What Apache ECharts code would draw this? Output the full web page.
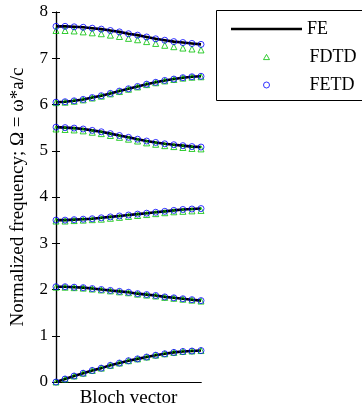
<!DOCTYPE html>
<html>
<head>
<meta charset="utf-8">
<script src="https://cdn.jsdelivr.net/npm/echarts@6/dist/echarts.min.js"></script>
<style>
html,body{margin:0;padding:0;background:#fff;}
#c{width:362px;height:408px;}
</style>
</head>
<body>
<div id="c"></div>
<script>
// Bloch vector sample index
const kIndex = [0,1,2,3,4,5,6,7,8,9,10,11,12,13,14,15,16];
const yTicks = [0,1,2,3,4,5,6,7,8];

// FE (continuous line)
const fe1 = [0,0.065,0.13,0.19,0.25,0.30,0.36,0.41,0.46,0.50,0.54,0.58,0.61,0.64,0.66,0.67,0.68];
const fe2 = [2.06,2.06,2.05,2.04,2.02,2.00,1.98,1.96,1.94,1.91,1.89,1.87,1.84,1.82,1.80,1.78,1.76];
const fe3 = [3.50,3.50,3.51,3.52,3.53,3.55,3.57,3.59,3.61,3.63,3.65,3.67,3.69,3.71,3.73,3.74,3.75];
const fe4 = [5.51,5.50,5.49,5.47,5.44,5.41,5.37,5.33,5.29,5.25,5.21,5.18,5.15,5.13,5.11,5.09,5.08];
const fe5 = [6.05,6.06,6.08,6.11,6.15,6.19,6.24,6.29,6.34,6.39,6.44,6.48,6.52,6.55,6.58,6.60,6.61];
const fe6 = [7.69,7.69,7.68,7.67,7.65,7.63,7.60,7.57,7.53,7.50,7.46,7.42,7.39,7.36,7.34,7.32,7.30];

// FDTD (green triangles)
const fdtd1 = [0,0.065,0.13,0.19,0.25,0.30,0.36,0.41,0.46,0.50,0.54,0.58,0.61,0.64,0.66,0.67,0.68];
const fdtd2 = [2.05,2.05,2.04,2.03,2.01,1.99,1.97,1.95,1.93,1.90,1.88,1.86,1.83,1.81,1.79,1.77,1.75];
const fdtd3 = [3.48,3.48,3.49,3.50,3.51,3.52,3.54,3.56,3.58,3.60,3.62,3.64,3.66,3.68,3.69,3.70,3.71];
const fdtd4 = [5.47,5.46,5.45,5.43,5.40,5.37,5.33,5.29,5.25,5.21,5.17,5.14,5.11,5.09,5.07,5.05,5.04];
const fdtd5 = [6.04,6.05,6.07,6.10,6.14,6.18,6.23,6.28,6.33,6.38,6.43,6.47,6.51,6.54,6.57,6.59,6.60];
const fdtd6 = [7.60,7.60,7.59,7.57,7.55,7.53,7.50,7.47,7.43,7.40,7.36,7.32,7.28,7.25,7.22,7.20,7.18];

// FETD (blue circles)
const fetd1 = [0,0.065,0.13,0.19,0.25,0.30,0.36,0.41,0.46,0.50,0.54,0.58,0.61,0.64,0.66,0.67,0.68];
const fetd2 = [2.06,2.06,2.05,2.04,2.02,2.00,1.98,1.96,1.94,1.91,1.89,1.87,1.84,1.82,1.80,1.78,1.76];
const fetd3 = [3.50,3.50,3.51,3.52,3.53,3.55,3.57,3.59,3.61,3.63,3.65,3.67,3.69,3.71,3.73,3.74,3.75];
const fetd4 = [5.51,5.50,5.49,5.47,5.44,5.41,5.37,5.33,5.29,5.25,5.21,5.18,5.15,5.13,5.11,5.09,5.08];
const fetd5 = [6.05,6.06,6.08,6.11,6.15,6.19,6.24,6.29,6.34,6.39,6.44,6.48,6.52,6.55,6.58,6.60,6.61];
const fetd6 = [7.69,7.69,7.68,7.67,7.65,7.63,7.60,7.57,7.53,7.50,7.46,7.42,7.39,7.36,7.34,7.32,7.30];

const feBands = [fe1,fe2,fe3,fe4,fe5,fe6];
const fdtdBands = [fdtd1,fdtd2,fdtd3,fdtd4,fdtd5,fdtd6];
const fetdBands = [fetd1,fetd2,fetd3,fetd4,fetd5,fetd6];

const FONT = 'Liberation Serif';
const toPts = arr => arr.map((v,i)=>[kIndex[i], v]);

const series = [];
feBands.forEach(b => series.push({
  name:'FE', type:'line', data: toPts(b), symbol:'none', z:2,
  lineStyle:{color:'#000', width:2.6}, itemStyle:{color:'#000'}, animation:false
}));
fdtdBands.forEach(b => series.push({
  name:'FDTD', type:'scatter', data: toPts(b), symbol:'triangle', symbolSize:6, z:3,
  itemStyle:{color:'rgba(0,0,0,0)', borderColor:'#00c000', borderWidth:1}, animation:false
}));
fetdBands.forEach(b => series.push({
  name:'FETD', type:'scatter', data: toPts(b), symbol:'circle', symbolSize:6, z:4,
  itemStyle:{color:'rgba(0,0,0,0)', borderColor:'#0000ff', borderWidth:1}, animation:false
}));

const legendText = {fontFamily:FONT, fontSize:18, color:'#000'};
const legendBase = {
  orient:'vertical', padding:0, itemHeight:18, selectedMode:false, symbolKeepAspect:true
};

const chart = echarts.init(document.getElementById('c'), null, {renderer:'canvas'});
chart.setOption({
  animation:false,
  backgroundColor:'#fff',
  grid:{left:56, top:12, width:145, height:370, containLabel:false, outerBoundsMode:'none'},
  graphic:[{
    type:'rect', z:0, silent:true,
    shape:{x:216.5, y:10.5, width:160, height:90},
    style:{fill:'#fff', stroke:'#000', lineWidth:1}
  }],
  legend:[
    Object.assign({}, legendBase, {left:231, top:20, itemWidth:71, textStyle:legendText,
      data:[{name:'FE', icon:'path://M0,0L71,0L71,2.6L0,2.6Z', itemStyle:{color:'#000', borderWidth:0}}]}),
    Object.assign({}, legendBase, {left:263, top:48, itemWidth:6,
      textStyle:Object.assign({}, legendText, {padding:[0,0,0,35]}),
      data:[{name:'FDTD', icon:'path://M3,0L6,5.2L0,5.2Z', itemStyle:{color:'rgba(0,0,0,0)', borderColor:'#00c000', borderWidth:1}}]}),
    Object.assign({}, legendBase, {left:263, top:76, itemWidth:6,
      textStyle:Object.assign({}, legendText, {padding:[0,0,0,35]}),
      data:[{name:'FETD', icon:'circle', itemStyle:{color:'rgba(0,0,0,0)', borderColor:'#0000ff', borderWidth:1}}]})
  ],
  xAxis:[{
    type:'value', min:kIndex[0], max:kIndex[kIndex.length-1], position:'bottom',
    name:'Bloch vector', nameLocation:'middle', nameGap:7,
    nameTextStyle:{fontFamily:FONT, fontSize:19, color:'#000', verticalAlign:'top'},
    axisLine:{show:true, lineStyle:{color:'#000', width:1.2}},
    axisTick:{show:false}, axisLabel:{show:false}, splitLine:{show:false}
  },{
    type:'value', min:kIndex[0], max:kIndex[kIndex.length-1], position:'top',
    axisLine:{show:true, lineStyle:{color:'#000', width:1.2}},
    axisTick:{show:false}, axisLabel:{show:false}, splitLine:{show:false}
  }],
  yAxis:[{
    type:'value', min:yTicks[0], max:yTicks[yTicks.length-1], interval:1, position:'left',
    name:'Normalized frequency; \u03A9 = \u03C9*a/c', nameLocation:'middle', nameGap:28,
    nameTextStyle:{fontFamily:FONT, fontSize:19, color:'#000'},
    axisLine:{show:true, lineStyle:{color:'#000', width:1.2}},
    axisTick:{show:true, inside:true, length:4, lineStyle:{color:'#000'}},
    axisLabel:{fontFamily:FONT, fontSize:17, color:'#000', margin:8},
    splitLine:{show:false}
  },{
    type:'value', min:yTicks[0], max:yTicks[yTicks.length-1], interval:1, position:'right',
    axisLine:{show:true, lineStyle:{color:'#000', width:1.2}},
    axisTick:{show:true, inside:true, length:4, lineStyle:{color:'#000'}},
    axisLabel:{show:false}, splitLine:{show:false}
  }],
  series: series
});
</script>
</body>
</html>
